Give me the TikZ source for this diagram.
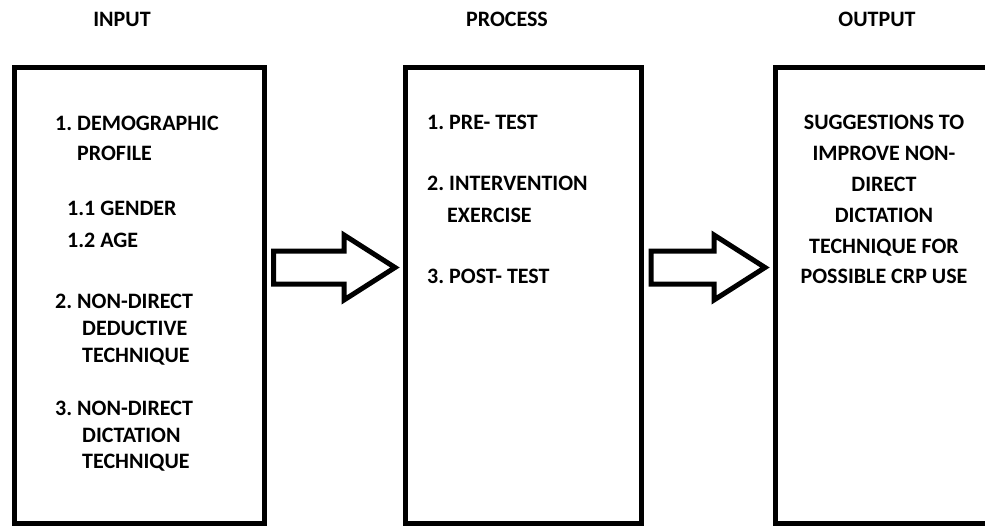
\documentclass[tikz,border=0pt]{standalone}
\usepackage{fontspec}
\setmainfont{Carlito}
\usetikzlibrary{calc,positioning}
\frenchspacing

\begin{document}
\begin{tikzpicture}[x=1pt,y=-1pt,
  stagebox/.style={draw=black,line width=5pt,outer sep=0pt,inner sep=0pt},
  stagetitle/.style={font=\fontsize{22}{26}\selectfont\bfseries,inner sep=0pt,anchor=base},
  itemtext/.style={font=\fontsize{22}{26}\selectfont\bfseries,inner sep=0pt,anchor=base west},
  centertext/.style={font=\fontsize{22}{26}\selectfont\bfseries,inner sep=0pt,anchor=base},
  blockarrow/.style={draw=black,line width=5pt,line join=miter,fill=white}]
\useasboundingbox (0,0) rectangle (985,527);
\clip (0,0) rectangle (985,527);
\node[stagebox,minimum width=249.5pt,minimum height=455.5pt] (inbox) at (139.25,295.25) {};
\node[stagebox,minimum width=236.5pt,minimum height=455.5pt] (procbox) at (523.25,295.25) {};
\node[stagebox,minimum width=230pt,minimum height=455.5pt] (outbox) at (890,295.25) {};
\node[stagetitle] (intitle) at (122,27) {INPUT};
\node[stagetitle] (proctitle) at (507,27) {PROCESS};
\node[stagetitle] (outtitle) at (877,27) {OUTPUT};
\foreach \px/\py/\txt [count=\i] in {55/130/1. DEMOGRAPHIC, 77/160/PROFILE, 67/215/1.1 GENDER, 67/247/1.2 AGE,
    55/308/2. NON-DIRECT, 82/335/DEDUCTIVE, 82/362/TECHNIQUE,
    55/415/3. NON-DIRECT, 82/442/DICTATION, 82/468/TECHNIQUE}
  \node[itemtext] (initem\i) at (\px,\py) {\txt};
\foreach \px/\py/\txt [count=\i] in {427/129/1. PRE- TEST, 427/190/2. INTERVENTION, 447/222/EXERCISE, 427/283/3. POST- TEST}
  \node[itemtext] (procitem\i) at (\px,\py) {\txt};
\foreach \py/\txt [count=\i] in {129/SUGGESTIONS TO, 160/IMPROVE NON-, 191/DIRECT, 222/DICTATION, 253/TECHNIQUE FOR, 283/POSSIBLE CRP USE}
  \node[centertext] (outitem\i) at (884,\py) {\txt};
\foreach \from/\to in {inbox/procbox,procbox/outbox}{
  \coordinate (tail) at ($(\from.east)+(9.5,-27.75)$);
  \coordinate (tip) at ($(\to.west)+(-10,-27.75)$);
  \draw[blockarrow] ($(tail)+(0,-16.5)$) -- ($(tip)+(-51,-16.5)$) -- ($(tip)+(-51,-32.5)$) -- (tip)
    -- ($(tip)+(-51,32.5)$) -- ($(tip)+(-51,16.5)$) -- ($(tail)+(0,16.5)$) -- cycle;
}
\end{tikzpicture}
\end{document}
